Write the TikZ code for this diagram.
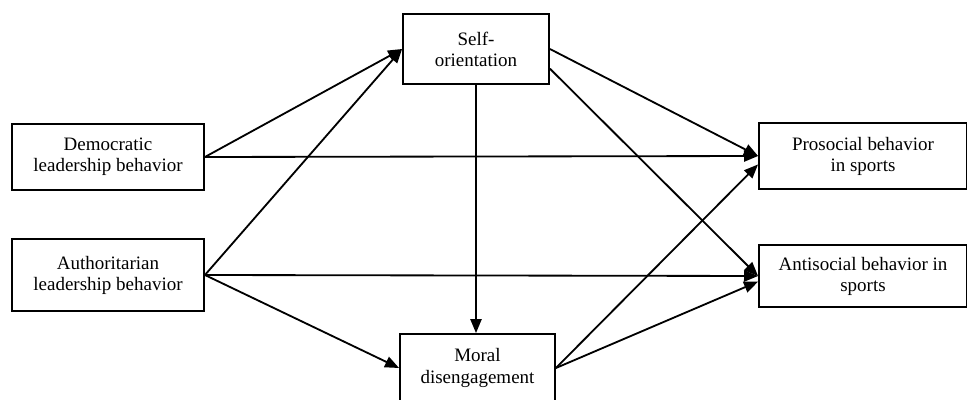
\documentclass[tikz,border=0pt]{standalone}
\usepackage{fontspec}
\setmainfont{Liberation Serif}
\usetikzlibrary{arrows.meta}
\begin{document}
\begin{tikzpicture}[x=0.025cm,y=-0.025cm,
  every node/.style={font=\fontsize{13.5}{15}\selectfont},
  varbox/.style={draw,line width=1.3pt,align=center,inner sep=0pt},
  path/.style={line width=1.3pt,-{Triangle[length=10pt,width=8pt]}}]
\useasboundingbox (0,0) rectangle (967,400);
% Predictors on the left.
\node[varbox,minimum width=4.8cm,minimum height=1.65cm] (dem) at (108,157) {Democratic\\leadership behavior};
\node[varbox,minimum width=4.8cm,minimum height=1.8cm] (auth) at (108,275) {Authoritarian\\leadership behavior};
% Mediators in the middle.
\node[varbox,minimum width=3.65cm,minimum height=1.75cm] (self) at (476,49) {Self-\\orientation};
\node[varbox,minimum width=3.875cm,minimum height=1.7cm] (moral) at (477.5,368) {Moral\\disengagement};
% Outcomes on the right.
\node[varbox,minimum width=5.2cm,minimum height=1.65cm] (pro) at (863,156) {Prosocial behavior\\in sports};
\node[varbox,minimum width=5.2cm,minimum height=1.55cm] (anti) at (863,276) {Antisocial behavior in\\sports};
% Paths.
\draw[path] (dem.east) -- (self.west);
\draw[path] (auth.east) -- (self.west);
\draw[path] (dem.east) -- (pro.west);
\draw[path] (auth.east) -- (anti.west);
\draw[path] (auth.east) -- (moral.west);
\draw[path] (self.south) -- (self.south |- moral.north);
\draw[path] (self.east) -- (pro.west);
\draw[path] ([yshift=-14pt]self.east) -- (anti.west);
\draw[path] (moral.east) -- ([yshift=-6pt]pro.west);
\draw[path] (moral.east) -- ([yshift=-4pt]anti.west);
\end{tikzpicture}
\end{document}
